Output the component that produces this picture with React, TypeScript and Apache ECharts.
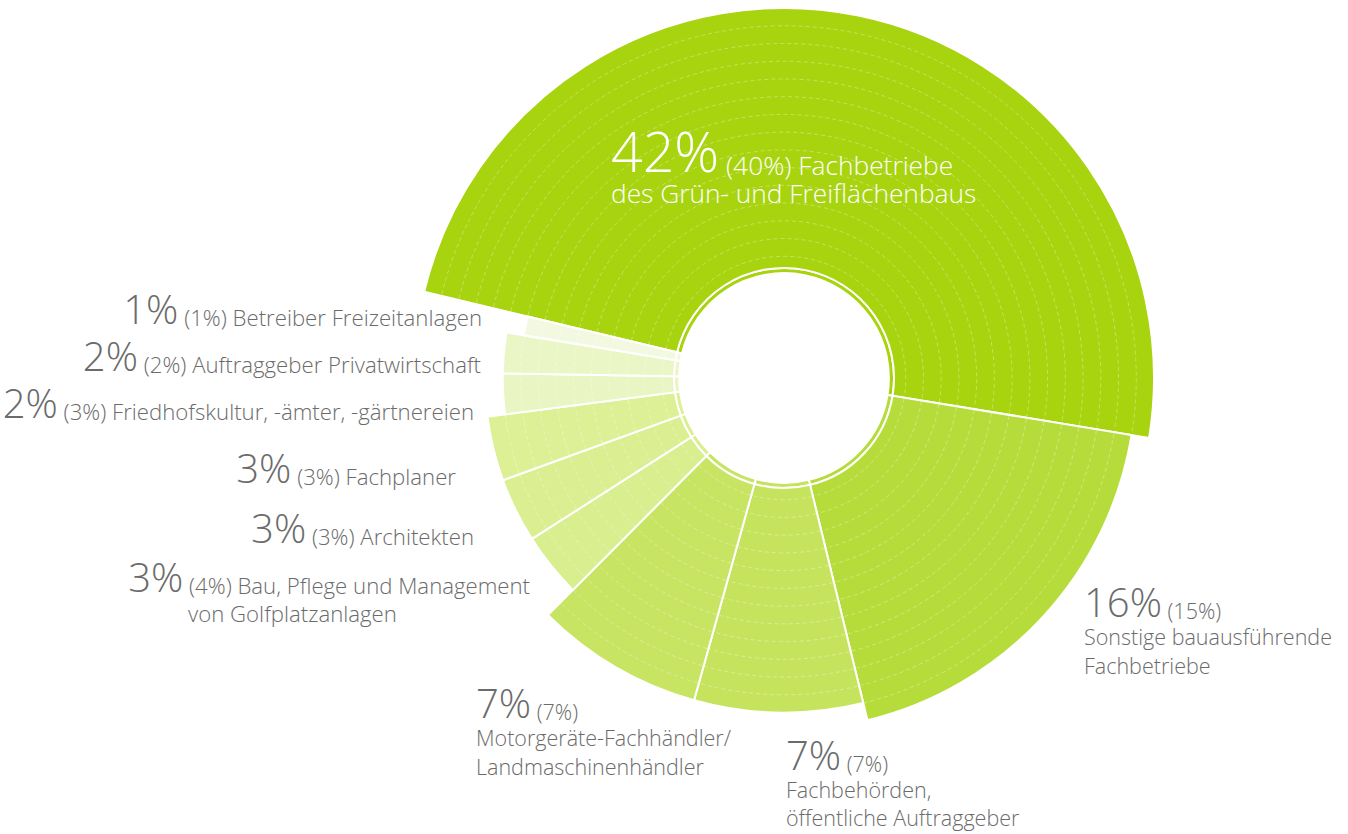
import React, { useEffect, useRef } from 'react';
import * as echarts from 'echarts';

// ---------- data ----------
const nameLines: string[][] = [
  ['Fachbetriebe', 'des Grün- und Freiflächenbaus'],
  ['Sonstige bauausführende', 'Fachbetriebe'],
  ['Fachbehörden,', 'öffentliche Auftraggeber'],
  ['Motorgeräte-Fachhändler/', 'Landmaschinenhändler'],
  ['Bau, Pflege und Management', 'von Golfplatzanlagen'],
  ['Architekten'],
  ['Fachplaner'],
  ['Friedhofskultur, -ämter, -gärtnereien'],
  ['Auftraggeber Privatwirtschaft'],
  ['Betreiber Freizeitanlagen'],
];
const categories = nameLines.map((l) => l.join(' '));
const shares = [42, 16, 7, 7, 3, 3, 3, 2, 2, 1];
const prevShares = [40, 15, 7, 7, 4, 3, 3, 3, 2, 1];
const ringLevels = [15, 14, 13, 13, 11, 11, 11, 10, 10, 9];
const colors = [
  '#a8d30f', '#b6dc3c', '#c6e35e', '#c8e463', '#d9ee8e',
  '#dbef92', '#ddf095', '#e9f5c3', '#ebf6c7', '#f3f9e0',
];

// ---------- layout / style ----------
const FONT = "'Open Sans', 'Noto Sans', sans-serif";
const GRAY = '#6b6b6b';
const K = 0.388; // central-to-baseline factor

type Lay = {
  x: number; base: number; align: 'left' | 'right'; mode: 'inline' | 'below';
  big: number; small: number; gap: number; color: string; restX?: number;
};
const B = 40;
const S = 21.5;
const SL = 22.2;
const layouts: Lay[] = [
  { x: 611, base: 172, align: 'left', mode: 'inline', big: 55.5, small: 26.3, gap: 31.6, color: '#ffffff' },
  { x: 1084, base: 617, align: 'left', mode: 'below', big: B, small: S, gap: 28.3, color: GRAY },
  { x: 786, base: 770, align: 'left', mode: 'below', big: B, small: S, gap: 27.7, color: GRAY },
  { x: 476, base: 718, align: 'left', mode: 'below', big: B, small: S, gap: 28.3, color: GRAY },
  { x: 530, base: 592, align: 'right', mode: 'inline', big: B, small: SL, gap: 30, color: GRAY, restX: 188 },
  { x: 474, base: 543, align: 'right', mode: 'inline', big: B, small: SL, gap: 30, color: GRAY },
  { x: 456, base: 483, align: 'right', mode: 'inline', big: B, small: SL, gap: 30, color: GRAY },
  { x: 474, base: 418, align: 'right', mode: 'inline', big: B, small: SL, gap: 30, color: GRAY },
  { x: 481, base: 371, align: 'right', mode: 'inline', big: B, small: SL, gap: 30, color: GRAY },
  { x: 482, base: 324, align: 'right', mode: 'inline', big: B, small: SL, gap: 30, color: GRAY },
];

function labelElements(): any[] {
  const els: any[] = [];
  layouts.forEach((L, i) => {
    const lines = nameLines[i];
    const firstRest = L.mode === 'inline'
      ? ` (${prevShares[i]}%) ${lines[0]}`
      : ` (${prevShares[i]}%)`;
    const rest = L.mode === 'inline' ? lines.slice(1) : lines;
    const lhSmall = L.big - 2 * K * (L.big - L.small);
    els.push({
      type: 'text',
      x: L.x,
      y: L.base - (0.5 + K) * L.big,
      z: 100,
      silent: true,
      style: {
        text: `{b|${shares[i]}%}{s|${firstRest}}`,
        align: L.align,
        verticalAlign: 'top',
        rich: {
          b: { fontSize: L.big, lineHeight: L.big, fontFamily: FONT, fontWeight: 300, fill: L.color, verticalAlign: 'bottom' },
          s: { fontSize: L.small, lineHeight: lhSmall, fontFamily: FONT, fontWeight: 300, fill: L.color, verticalAlign: 'bottom' },
        },
      },
    });
    rest.forEach((t, j) => {
      els.push({
        type: 'text',
        x: L.restX ?? L.x,
        y: L.base + (j + 1) * L.gap - (0.5 + K) * L.small,
        z: 100,
        silent: true,
        style: {
          text: t,
          fontSize: L.small,
          lineHeight: L.small,
          fontFamily: FONT,
          fontWeight: 300,
          fill: L.color,
          align: L.restX ? 'left' : L.align,
          verticalAlign: 'top',
        },
      });
    });
  });
  return els;
}

const renderItem = (params: any, api: any) => {
  const cs = params.coordSys;
  const cx = cs.cx;
  const cy = cs.cy;
  const level = api.value(0);
  const start = api.value(1);
  const end = api.value(2);
  const toPolar = (r: number, a: number) => {
    const p = api.coord([r, a]);
    return { r: Math.hypot(p[0] - cx, p[1] - cy), a: Math.atan2(p[1] - cy, p[0] - cx) };
  };
  const a0 = toPolar(10, start).a;
  let a1 = toPolar(10, end).a;
  while (a1 <= a0) a1 += Math.PI * 2;
  const R = (v: number) => toPolar(v, start).r;
  const color = api.visual('color');
  const children: any[] = [
    {
      type: 'sector',
      shape: { cx, cy, r0: R(0.05), r: R(0.34), startAngle: a0, endAngle: a1, clockwise: true },
      style: { fill: color, stroke: '#ffffff', lineWidth: 2 },
    },
    {
      type: 'sector',
      shape: { cx, cy, r0: R(0.34), r: R(level), startAngle: a0, endAngle: a1, clockwise: true },
      style: { fill: color, stroke: '#ffffff', lineWidth: 2 },
    },
  ];
  for (let k = 1; k < level; k++) {
    children.push({
      type: 'arc',
      shape: { cx, cy, r: R(k), startAngle: a0 + 0.005, endAngle: a1 - 0.005, clockwise: true },
      style: { stroke: 'rgba(255,255,255,0.32)', lineWidth: 1, lineDash: [4, 3], fill: null },
    });
  }
  return { type: 'group', children };
};

function buildOption(): any {
  const total = shares.reduce((a, b) => a + b, 0);
  let acc = 0;
  const data = shares.map((v, i) => {
    const d = {
      name: categories[i],
      value: [ringLevels[i], acc, acc + v],
      itemStyle: { color: colors[i] },
    };
    acc += v;
    return d;
  });
  return {
    animation: false,
    backgroundColor: '#ffffff',
    polar: { center: [784, 378], radius: [104, 370] },
    angleAxis: { type: 'value', min: 0, max: total, startAngle: 166.5, clockwise: true, show: false },
    radiusAxis: { type: 'value', min: 0, max: 15, show: false },
    series: [
      {
        type: 'custom',
        coordinateSystem: 'polar',
        renderItem,
        data,
        silent: true,
        z: 2,
      },
    ],
    graphic: { elements: labelElements() },
  };
}

export default function App() {
  const ref = useRef<HTMLDivElement>(null);
  useEffect(() => {
    const chart = echarts.init(ref.current!, null, { renderer: 'svg' });
    chart.setOption(buildOption());
    return () => chart.dispose();
  }, []);
  return (
    <div
      ref={ref}
      style={{ position: 'fixed', left: 0, top: 0, width: 1348, height: 834, background: '#fff' }}
    />
  );
}
